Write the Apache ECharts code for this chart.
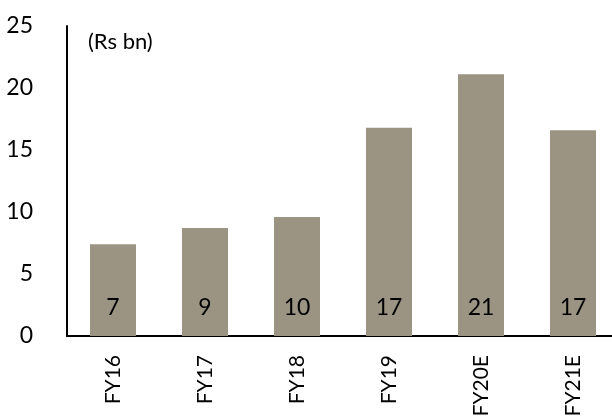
<!DOCTYPE html>
<html>
<head>
<meta charset="utf-8">
<script src="https://cdn.jsdelivr.net/npm/echarts@6/dist/echarts.min.js"></script>
<style>
  html, body { margin: 0; padding: 0; background: #ffffff; }
  #chart { width: 612px; height: 419px; }
</style>
</head>
<body>
<div id="chart"></div>
<script>
// Fiscal years on the category axis
const categories = ['FY16', 'FY17', 'FY18', 'FY19', 'FY20E', 'FY21E'];
// Values in Rs bn
const values = [7.4, 8.7, 9.6, 16.8, 21.1, 16.6];
// Value axis ticks
const yTicks = [0, 5, 10, 15, 20, 25];

const FONT = 'Lato';
const chart = echarts.init(document.getElementById('chart'), null, { renderer: 'canvas' });

chart.setOption({
  animation: false,
  backgroundColor: '#ffffff',
  // plot area runs slightly past the right edge of the canvas
  grid: { left: 67, top: 26, bottom: 83, width: 552, outerBoundsMode: 'none', containLabel: false },
  graphic: [{
    type: 'text',
    left: 88,
    top: 31,
    style: { text: '(Rs bn)', font: '22px ' + FONT, fill: '#000000' }
  }],
  xAxis: {
    type: 'category',
    data: categories,
    axisLine: { show: true, lineStyle: { color: '#000000', width: 2 } },
    axisTick: { show: false },
    axisLabel: {
      rotate: 90,
      margin: 19,
      color: '#000000',
      fontFamily: FONT,
      fontSize: 21
    }
  },
  yAxis: {
    type: 'value',
    min: yTicks[0],
    max: yTicks[yTicks.length - 1],
    interval: yTicks[1] - yTicks[0],
    axisLine: { show: true, lineStyle: { color: '#000000', width: 2 } },
    axisTick: { show: false },
    splitLine: { show: false },
    axisLabel: {
      margin: 34,
      color: '#000000',
      fontFamily: FONT,
      fontSize: 23
    }
  },
  series: [{
    type: 'bar',
    data: values,
    barWidth: '50%',
    itemStyle: { color: '#9b9483' },
    label: {
      show: true,
      position: 'insideBottom',
      distance: 17,
      color: '#000000',
      fontFamily: FONT,
      fontSize: 23,
      formatter: p => Math.round(p.value).toString()
    }
  }]
});
</script>
</body>
</html>
